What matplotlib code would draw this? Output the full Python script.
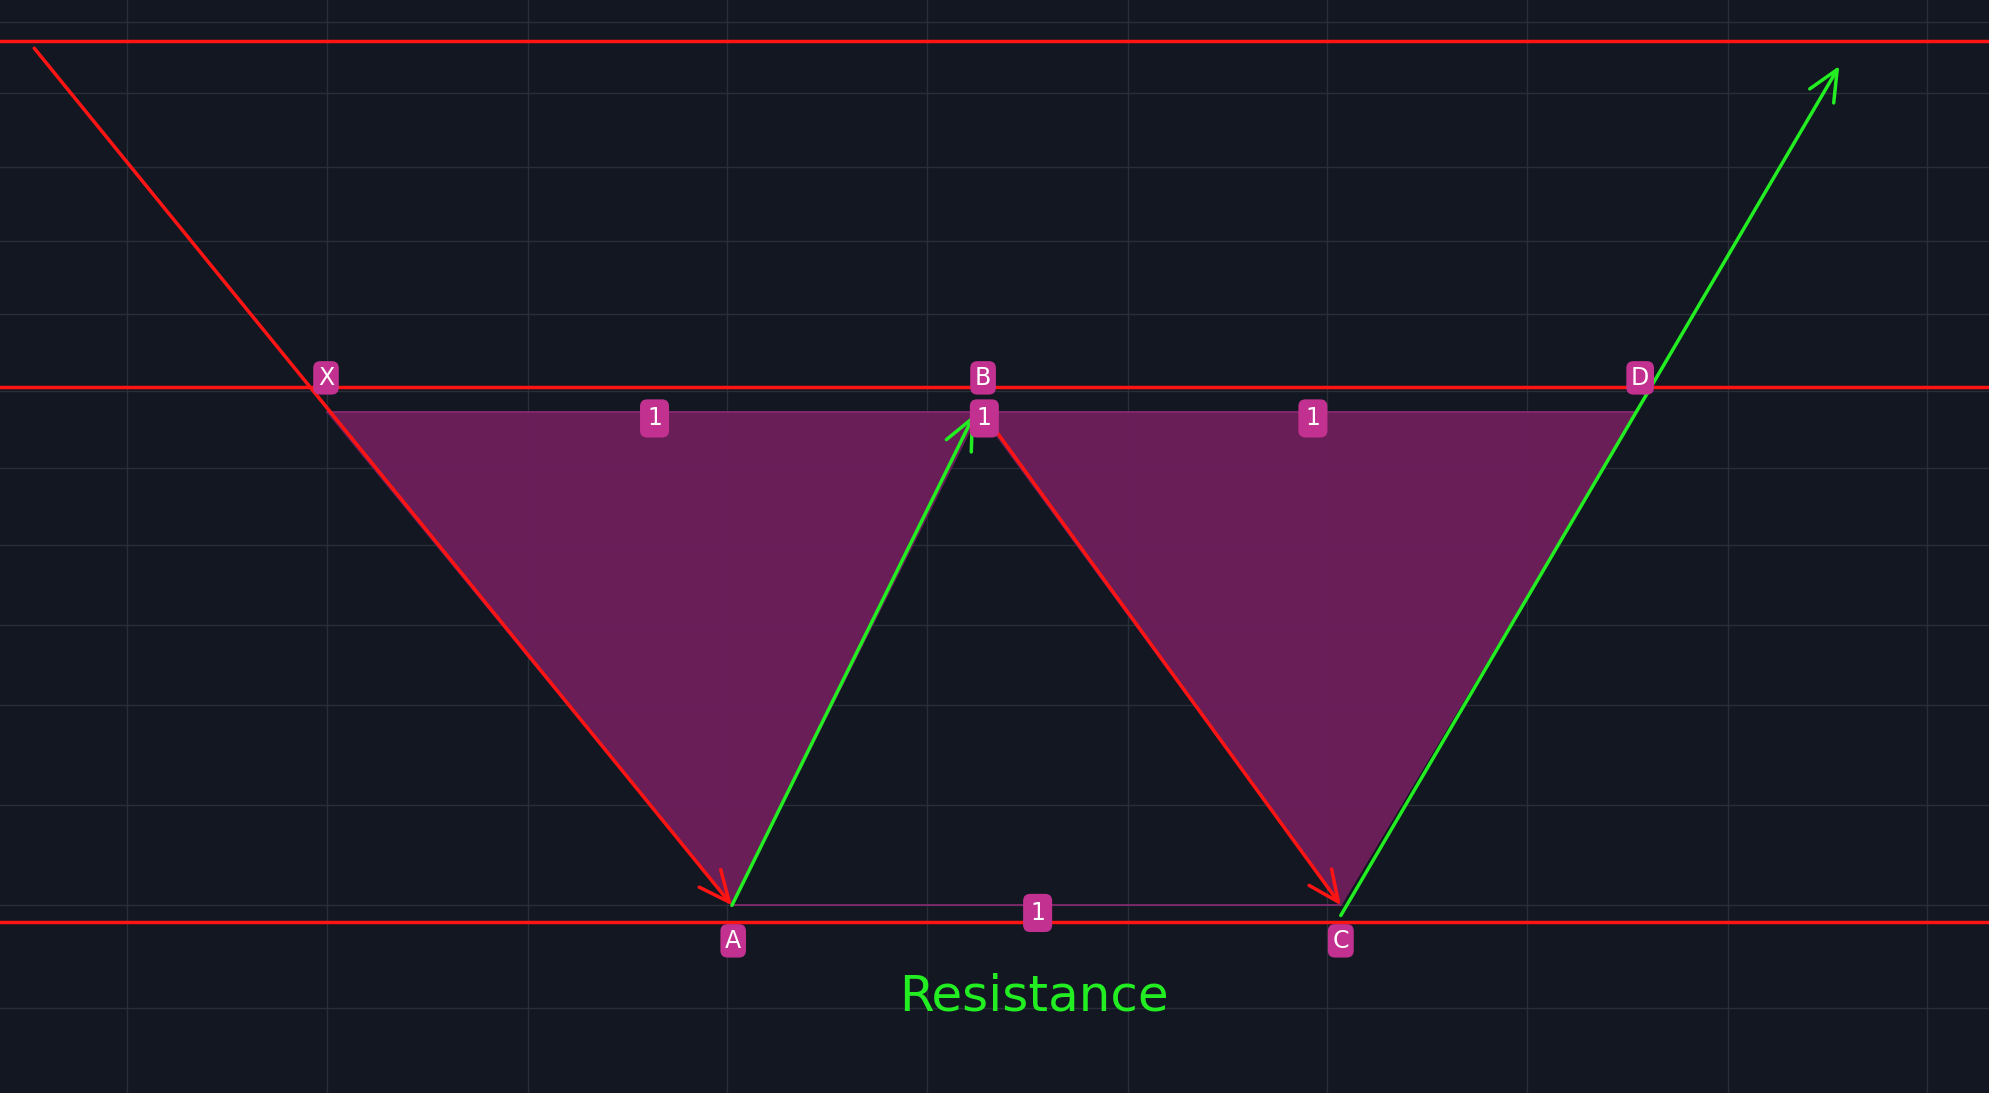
import matplotlib.pyplot as plt

# chart works in the screen coordinates of the reference (1568 x 862 view)
grid_x = [100, 258, 416, 573, 731, 889, 1046, 1204, 1362, 1519]
grid_y = [17, 73, 132, 190, 248, 308, 369, 430, 493, 556, 635, 714, 795]
levels = [32, 305, 727]

pattern_x = [258, 577, 772, 1057, 1290]
pattern_y = [325, 714, 325, 714, 325]
point_names = ["X", "A", "B", "C", "D"]
label_x = [257, 578, 775, 1057, 1293]
label_y = [298, 742, 298, 742, 298]

ratio_labels = ["1", "1", "1", "1"]
ratio_x = [516, 1035, 776, 818]
ratio_y = [330, 330, 330, 720]

red_legs = [((27, 38), (577, 714)), ((778, 330), (1057, 714))]
green_legs = [((577, 714), (768, 327)), ((1057, 722), (1450, 52))]

bg = "#131722"
fill = "#6e1f5c"
box = "#c2318f"

fig = plt.figure(figsize=(19.89, 10.93), dpi=100, facecolor=bg)
ax = fig.add_axes([0, 0, 1, 1])
ax.set_facecolor(bg)
ax.set_xlim(0, 1568)
ax.set_ylim(862, 0)
ax.axis("off")

for x in grid_x:
    ax.axvline(x, color="#2a2e39", linewidth=1)
for y in grid_y:
    ax.axhline(y, color="#2a2e39", linewidth=1)

ax.fill(pattern_x[:3], pattern_y[:3], color=fill, alpha=0.95, zorder=2)
ax.fill(pattern_x[2:], pattern_y[2:], color=fill, alpha=0.95, zorder=2)
ax.plot([pattern_x[1], pattern_x[3]], [pattern_y[1], pattern_y[3]],
        color="#8a2a70", linewidth=1.2, zorder=2)
ax.plot([pattern_x[0], pattern_x[2], pattern_x[4]],
        [pattern_y[0], pattern_y[2], pattern_y[4]],
        color="#8a2a70", linewidth=1.2, zorder=2)

for y in levels:
    ax.axhline(y, color="#ff1414", linewidth=2.5, zorder=3)

for legs, color in [(red_legs, "#ff1414"), (green_legs, "#22ee22")]:
    for start, end in legs:
        ax.annotate(
            "",
            xy=end,
            xytext=start,
            arrowprops=dict(
                arrowstyle="->,head_length=2.2,head_width=1.0",
                color=color,
                linewidth=2.5,
                shrinkA=0,
                shrinkB=0,
            ),
            zorder=4,
        )

for name, x, y in zip(point_names, label_x, label_y):
    ax.text(x, y, name, color="white", fontsize=17, ha="center", va="center",
            zorder=5,
            bbox=dict(boxstyle="round,pad=0.2,rounding_size=0.3", fc=box, ec="none"))

for text, x, y in zip(ratio_labels, ratio_x, ratio_y):
    ax.text(x, y, text, color="white", fontsize=17, ha="center", va="center",
            zorder=5,
            bbox=dict(boxstyle="round,pad=0.3,rounding_size=0.3", fc=box, ec="none"))

ax.text(815, 786, "Resistance", color="#22ee22", fontsize=36,
        ha="center", va="center", zorder=5)

fig.savefig("out.png", dpi=100, facecolor=bg)
